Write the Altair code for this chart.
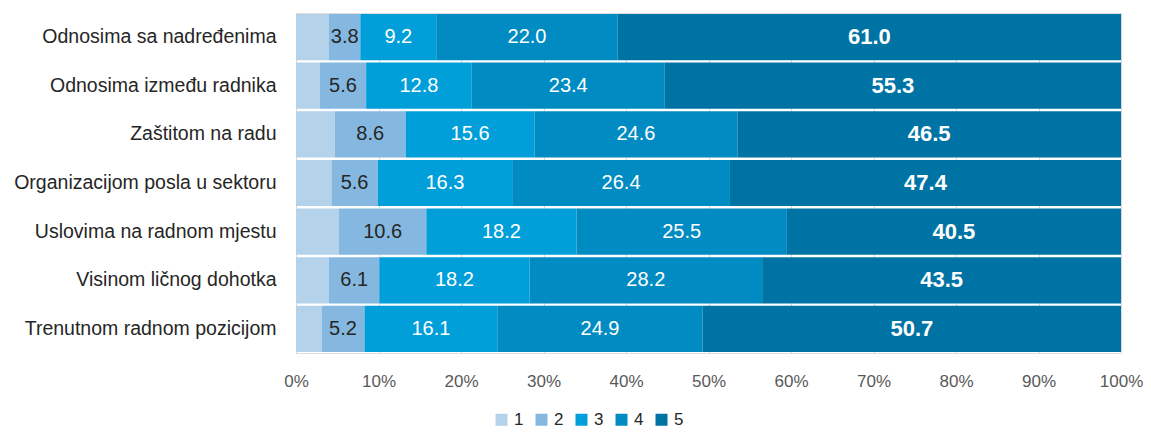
import altair as alt
import pandas as pd

categories = [
    "Odnosima sa nadređenima",
    "Odnosima između radnika",
    "Zaštitom na radu",
    "Organizacijom posla u sektoru",
    "Uslovima na radnom mjestu",
    "Visinom ličnog dohotka",
    "Trenutnom radnom pozicijom",
]
levels = ["1", "2", "3", "4", "5"]
s1 = [4.0, 2.9, 4.7, 4.3, 5.2, 4.0, 3.1]
s2 = [3.8, 5.6, 8.6, 5.6, 10.6, 6.1, 5.2]
s3 = [9.2, 12.8, 15.6, 16.3, 18.2, 18.2, 16.1]
s4 = [22.0, 23.4, 24.6, 26.4, 25.5, 28.2, 24.9]
s5 = [61.0, 55.3, 46.5, 47.4, 40.5, 43.5, 50.7]
colors = ["#b4d2ea", "#84b8e0", "#009fda", "#008bc2", "#0073a5"]

series = [s1, s2, s3, s4, s5]
rows = []
for li, (lev, vals) in enumerate(zip(levels, series)):
    for ci, (cat, v) in enumerate(zip(categories, vals)):
        rows.append({"cat": cat, "level": lev, "ord": li, "value": v,
                     "label": "" if lev == "1" else f"{v:.1f}"})
df = pd.DataFrame(rows)

FONT = "Liberation Sans"

base = alt.Chart(df).transform_stack(
    stack="value", groupby=["cat"], as_=["x0", "x1"],
    sort=[alt.SortField("ord", order="ascending")]
).transform_calculate(mid="(datum.x0 + datum.x1) / 2")

xscale = alt.Scale(domain=[0, 100], nice=False)
yenc = alt.Y("cat:N", sort=categories,
             scale=alt.Scale(paddingInner=0.05, paddingOuter=0.02),
             axis=alt.Axis(title=None, ticks=False, domain=True, domainColor="#d9d9d9",
                           labelPadding=20, labelFontSize=19.5, labelColor="#262626",
                           labelFont=FONT, labelLimit=400, grid=False))

bars = base.mark_bar().encode(
    x=alt.X("x0:Q", scale=xscale,
            axis=alt.Axis(title=None, values=list(range(0, 101, 10)),
                          labelExpr="datum.value + '%'", ticks=False, domain=False,
                          labelFlush=False, labelOverlap=False,
                          grid=True, gridColor="#d9d9d9", labelPadding=20,
                          labelFontSize=17, labelColor="#595959", labelFont=FONT)),
    x2="x1:Q",
    y=yenc,
    color=alt.Color("level:N", scale=alt.Scale(domain=levels, range=colors),
                    legend=alt.Legend(title=None, orient="none", direction="horizontal",
                                      legendX=197, legendY=398, symbolType="square",
                                      symbolSize=144, symbolStrokeWidth=0,
                                      labelFontSize=17, labelColor="#262626",
                                      labelFont=FONT, labelOffset=4, columnPadding=9,
                                      padding=0)),
)

lab_mid = base.transform_filter("datum.level == '2'").mark_text(
    fontSize=20, font=FONT, color="#262626").encode(
    x=alt.X("mid:Q", scale=xscale), y=alt.Y("cat:N", sort=categories), text="label:N")
lab_white = base.transform_filter("datum.level == '3' || datum.level == '4'").mark_text(
    fontSize=20, font=FONT, color="white").encode(
    x=alt.X("mid:Q", scale=xscale), y=alt.Y("cat:N", sort=categories), text="label:N")
lab_bold = base.transform_filter("datum.level == '5'").mark_text(
    fontSize=22, font=FONT, color="white", fontWeight="bold").encode(
    x=alt.X("mid:Q", scale=xscale), y=alt.Y("cat:N", sort=categories), text="label:N")

chart = alt.layer(bars, lab_mid, lab_white, lab_bold).properties(
    width=825, height=340,
    autosize=alt.AutoSizeParams(type="none"),
    padding={"left": 288, "top": 5, "right": 22, "bottom": 78},
).configure_view(stroke=None).configure(background="white")

chart.save("out.html", embed_options={"renderer": "svg", "actions": False})
